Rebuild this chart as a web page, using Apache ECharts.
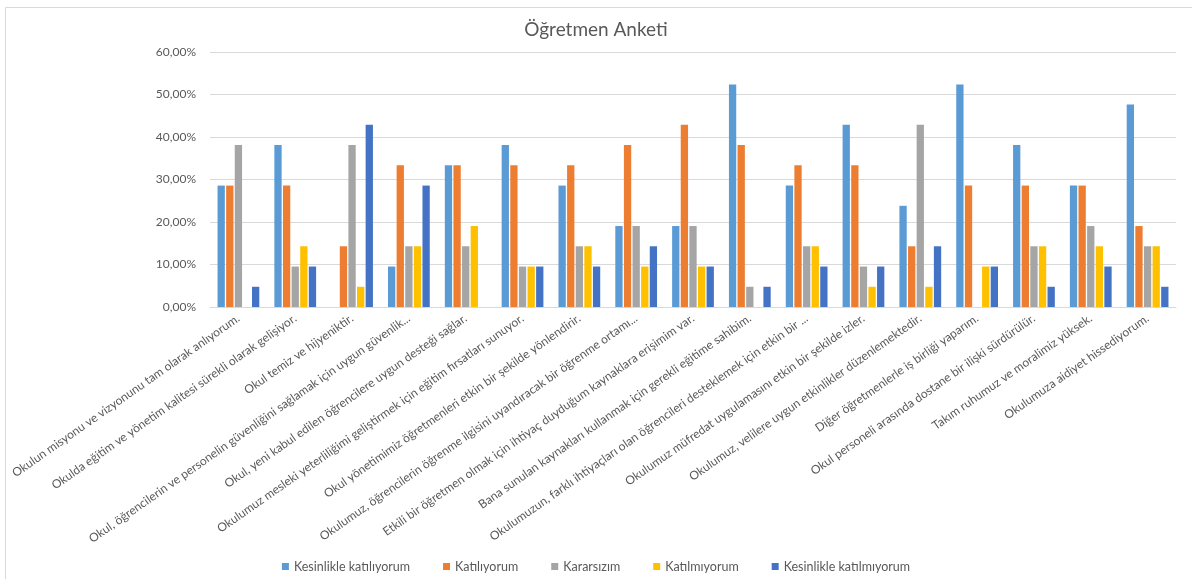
<!DOCTYPE html>
<html>
<head>
<meta charset="utf-8">
<script src="https://cdn.jsdelivr.net/npm/echarts@6/dist/echarts.min.js"></script>
<style>html,body{margin:0;padding:0;background:#fff;}#c{width:1192px;height:579px;}</style>
</head>
<body>
<div id="c"></div>
<script>
const categories = [
  "Okulun misyonu ve vizyonunu tam olarak anlıyorum.",
  "Okulda eğitim ve yönetim kalitesi sürekli olarak gelişiyor.",
  "Okul temiz ve hijyeniktir.",
  "Okul, öğrencilerin ve personelin güvenliğini sağlamak için uygun güvenlik...",
  "Okul, yeni kabul edilen öğrencilere uygun desteği sağlar.",
  "Okulumuz mesleki yeterliliğimi geliştirmek için eğitim fırsatları sunuyor.",
  "Okul yönetimimiz öğretmenleri etkin bir şekilde yönlendirir.",
  "Okulumuz, öğrencilerin öğrenme ilgisini uyandıracak bir öğrenme ortamı...",
  "Etkili bir öğretmen olmak için ihtiyaç duyduğum kaynaklara erişimim var.",
  "Bana sunulan kaynakları kullanmak için gerekli eğitime sahibim.",
  "Okulumuzun, farklı ihtiyaçları olan öğrencileri desteklemek için etkin bir ...",
  "Okulumuz müfredat uygulamasını etkin bir şekilde izler.",
  "Okulumuz, velilere uygun etkinlikler düzenlemektedir.",
  "Diğer öğretmenlerle iş birliği yaparım.",
  "Okul personeli arasında dostane bir ilişki sürdürülür.",
  "Takım ruhumuz ve moralimiz yüksek.",
  "Okulumuza aidiyet hissediyorum."
];
const kesinlikleKatiliyorum = [28.57, 38.10, 0, 9.52, 33.33, 38.10, 28.57, 19.05, 19.05, 52.38, 28.57, 42.86, 23.81, 52.38, 38.10, 28.57, 47.62];
const katiliyorum = [28.57, 28.57, 14.29, 33.33, 33.33, 33.33, 33.33, 38.10, 42.86, 38.10, 33.33, 33.33, 14.29, 28.57, 28.57, 28.57, 19.05];
const kararsizim = [38.10, 9.52, 38.10, 14.29, 14.29, 9.52, 14.29, 19.05, 19.05, 4.76, 14.29, 9.52, 42.86, 0, 14.29, 19.05, 14.29];
const katilmiyorum = [0, 14.29, 4.76, 14.29, 19.05, 9.52, 14.29, 9.52, 9.52, 0, 14.29, 4.76, 4.76, 9.52, 14.29, 14.29, 14.29];
const kesinlikleKatilmiyorum = [4.76, 9.52, 42.86, 28.57, 0, 9.52, 9.52, 14.29, 9.52, 4.76, 9.52, 9.52, 14.29, 9.52, 4.76, 9.52, 4.76];
const seriesNames = ["Kesinlikle katılıyorum", "Katılıyorum", "Kararsızım", "Katılmıyorum", "Kesinlikle katılmıyorum"];
const seriesData = [kesinlikleKatiliyorum, katiliyorum, kararsizim, katilmiyorum, kesinlikleKatilmiyorum];
const colors = ["#5B9BD5", "#ED7D31", "#A5A5A5", "#FFC000", "#4472C4"];
const titleText = "Öğretmen Anketi";

const font = "Lato, 'Open Sans', sans-serif";
const chart = echarts.init(document.getElementById('c'));
chart.setOption({
  animation: false,
  color: colors,
  title: {
    text: titleText, left: 'center', top: 15,
    textStyle: { fontFamily: font, fontSize: 19, fontWeight: 'normal', color: '#595959' }
  },
  legend: {
    bottom: 1, left: 'center', itemWidth: 7, itemHeight: 7, itemGap: 33, icon: 'rect',
    textStyle: { fontFamily: font, fontSize: 12.5, color: '#595959' },
    data: seriesNames
  },
  grid: { left: 210, right: 16, top: 52, bottom: 272, containLabel: false },
  xAxis: {
    type: 'category', data: categories,
    axisTick: { show: false },
    axisLine: { lineStyle: { color: '#d9d9d9' } },
    axisLabel: { interval: 0, rotate: 35, margin: 10, fontFamily: font, fontSize: 12, color: '#595959' }
  },
  yAxis: {
    type: 'value', min: 0, max: 60, interval: 10,
    axisLine: { show: false }, axisTick: { show: false },
    splitLine: { lineStyle: { color: '#d9d9d9' } },
    axisLabel: {
      margin: 14, fontFamily: font, fontSize: 12, color: '#595959',
      formatter: v => v.toFixed(2).replace('.', ',') + '%'
    }
  },
  graphic: [{
    type: 'rect', silent: true,
    shape: { x: 5.5, y: 7.5, width: 1200, height: 600 },
    style: { fill: 'none', stroke: '#d9d9d9', lineWidth: 1 }
  }],
  series: seriesNames.map((n, i) => ({
    name: n, type: 'bar', data: seriesData[i],
    barWidth: 7.3, barGap: '18%'
  }))
});
</script>
</body>
</html>
